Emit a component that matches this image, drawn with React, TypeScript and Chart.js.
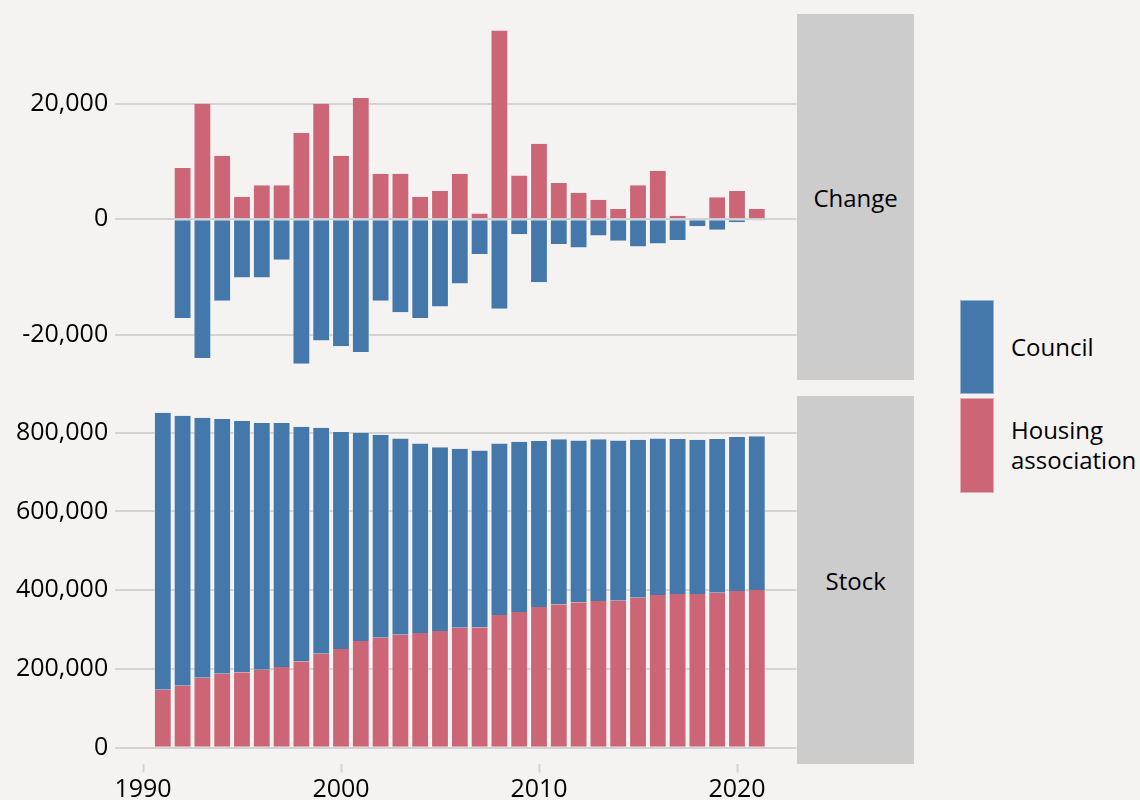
import React, { useEffect, useRef } from "react";
import { Chart, registerables } from "chart.js";

Chart.register(...registerables);

// ---------- data ----------
const stockYears = [1991, 1992, 1993, 1994, 1995, 1996, 1997, 1998, 1999, 2000, 2001, 2002, 2003, 2004, 2005, 2006, 2007, 2008, 2009, 2010, 2011, 2012, 2013, 2014, 2015, 2016, 2017, 2018, 2019, 2020, 2021];
const changeYears = [1992, 1993, 1994, 1995, 1996, 1997, 1998, 1999, 2000, 2001, 2002, 2003, 2004, 2005, 2006, 2007, 2008, 2009, 2010, 2011, 2012, 2013, 2014, 2015, 2016, 2017, 2018, 2019, 2020, 2021];

const councilChange = [-17100, -24000, -14100, -10100, -10100, -7000, -25000, -21000, -22000, -23000, -14100, -16100, -17100, -15100, -11100, -6000, -15500, -2600, -10900, -4300, -4900, -2800, -3700, -4700, -4200, -3600, -1200, -1800, -500, -200];
const haChange = [8900, 20000, 11000, 3900, 5900, 5900, 15000, 20000, 11000, 21000, 7900, 7900, 3900, 4900, 7900, 1000, 32700, 7600, 13100, 6300, 4600, 3400, 1800, 5900, 8400, 600, 200, 3800, 4900, 1800];

const haStock = [147300, 157500, 177800, 187900, 191300, 198100, 204900, 219300, 238700, 250600, 270900, 279400, 287000, 291200, 296300, 304800, 305600, 336900, 344600, 357200, 364000, 369100, 372500, 373300, 381000, 387700, 390300, 390300, 393700, 397900, 400400];
const councilStock = [703500, 685700, 660300, 646800, 638300, 626500, 619700, 595900, 574000, 551100, 529100, 514700, 498600, 481700, 466500, 454600, 449500, 436000, 432500, 421600, 419100, 411400, 410600, 407200, 401200, 397900, 393600, 391900, 390200, 391100, 390300];

const changeTicks = [-20000, 0, 20000];
const stockTicks = [0, 200000, 400000, 600000, 800000];
const yearTicks = [1990, 2000, 2010, 2020];

const seriesNames = ["Council", "Housing association"];
const panelNames = ["Change", "Stock"];

// ---------- style ----------
const BLUE = "#4477AA";
const RED = "#CC6677";
const BG = "#F5F3F1";
const GRID = "#D3D3D3";
const STRIP = "#CCCCCC";
const FONT = "'Open Sans', 'Noto Sans', sans-serif";

const fmt = (v: number) => Number(v).toLocaleString("en-US");

function barDataset(label: string, xs: number[], ys: number[], color: string) {
  return {
    label,
    data: xs.map((x, i) => ({ x, y: ys[i] })),
    backgroundColor: color,
    borderColor: "rgba(255,255,255,0.4)",
    borderWidth: { left: 1, right: 1, top: 0, bottom: 0 },
    borderSkipped: false,
    categoryPercentage: 1,
    barPercentage: 0.9,
  };
}

function yScale(min: number, max: number, ticks: number[]) {
  return {
    stacked: true,
    min,
    max,
    afterFit: (s: any) => {
      s.width = 123.2;
      s.paddingTop = 0;
      s.paddingBottom = 0;
    },
    afterBuildTicks: (s: any) => {
      s.ticks = ticks.map((v) => ({ value: v }));
    },
    grid: {
      color: GRID,
      lineWidth: 2,
      drawTicks: true,
      tickLength: 8,
      tickColor: GRID,
      tickWidth: 2,
    },
    border: { display: false },
    ticks: {
      padding: 7,
      color: "#000",
      font: { family: FONT, size: 25 },
      callback: (v: any) => fmt(v),
    },
  };
}

function xScale(show: boolean) {
  return {
    type: "linear",
    min: 1989,
    max: 2023,
    stacked: true,
    offset: false,
    display: show,
    afterBuildTicks: (s: any) => {
      s.ticks = yearTicks.map((v) => ({ value: v }));
    },
    afterFit: (s: any) => {
      s.height = show ? 35.6 : 0;
      s.paddingLeft = 0;
      s.paddingRight = 0;
    },
    grid: {
      offset: false,
      drawOnChartArea: false,
      drawTicks: true,
      tickLength: 8,
      tickColor: GRID,
      tickWidth: 2,
    },
    border: { display: false },
    ticks: {
      padding: 2,
      color: "#000",
      maxRotation: 0,
      autoSkip: false,
      font: { family: FONT, size: 25 },
      callback: (v: any) => String(v),
    },
  } as any;
}

function TopChart() {
  const ref = useRef<HTMLCanvasElement>(null);
  useEffect(() => {
    const chart = new Chart(ref.current!, {
      type: "bar",
      data: {
        datasets: [
          barDataset(seriesNames[1], changeYears, haChange, RED),
          barDataset(seriesNames[0], changeYears, councilChange, BLUE),
        ] as any,
      },
      options: {
        responsive: false,
        animation: false,
        layout: { padding: { top: 13.7, bottom: 9.6, left: 0, right: 0.6 } },
        plugins: { legend: { display: false }, tooltip: { enabled: false } },
        scales: {
          x: xScale(false),
          y: yScale(-27900, 35600, changeTicks) as any,
        },
      },
    });
    return () => chart.destroy();
  }, []);
  return (
    <canvas
      ref={ref}
      width={797}
      height={390}
      style={{ position: "absolute", left: 0, top: 0, width: 797, height: 390 }}
    />
  );
}

function BottomChart() {
  const ref = useRef<HTMLCanvasElement>(null);
  useEffect(() => {
    const chart = new Chart(ref.current!, {
      type: "bar",
      data: {
        datasets: [
          barDataset(seriesNames[1], stockYears, haStock, RED),
          barDataset(seriesNames[0], stockYears, councilStock, BLUE),
        ] as any,
      },
      options: {
        responsive: false,
        animation: false,
        layout: { padding: { top: 6.1, bottom: 0, left: 0, right: 0.6 } },
        plugins: { legend: { display: false }, tooltip: { enabled: false } },
        scales: {
          x: xScale(true),
          y: yScale(-42500, 893000, stockTicks) as any,
        },
      },
    });
    return () => chart.destroy();
  }, []);
  return (
    <canvas
      ref={ref}
      width={797}
      height={410}
      style={{ position: "absolute", left: 0, top: 390, width: 797, height: 410 }}
    />
  );
}

const textStyle: React.CSSProperties = {
  fontFamily: FONT,
  fontSize: 24,
  color: "#000",
};

export default function App() {
  return (
    <div
      style={{
        position: "fixed",
        left: 0,
        top: 0,
        width: 1140,
        height: 800,
        background: BG,
        overflow: "hidden",
      }}
    >
      <TopChart />
      <BottomChart />
      {/* facet strips */}
      <div
        style={{
          ...textStyle,
          position: "absolute",
          left: 797.3,
          top: 13.7,
          width: 116.7,
          height: 366.7,
          background: STRIP,
          display: "flex",
          alignItems: "center",
          justifyContent: "center",
        }}
      >
        {panelNames[0]}
      </div>
      <div
        style={{
          ...textStyle,
          position: "absolute",
          left: 797.3,
          top: 396.1,
          width: 116.7,
          height: 368.3,
          background: STRIP,
          display: "flex",
          alignItems: "center",
          justifyContent: "center",
        }}
      >
        {panelNames[1]}
      </div>
      {/* legend */}
      <div
        style={{
          position: "absolute",
          left: 959.5,
          top: 299.5,
          width: 34,
          height: 94.5,
          background: BLUE,
          boxSizing: "border-box",
          border: "1px solid rgba(255,255,255,0.45)",
        }}
      />
      <div
        style={{
          position: "absolute",
          left: 959.5,
          top: 397.5,
          width: 34,
          height: 95,
          background: RED,
          boxSizing: "border-box",
          border: "1px solid rgba(255,255,255,0.45)",
        }}
      />
      <div
        style={{
          ...textStyle,
          position: "absolute",
          left: 1011,
          top: 299.5,
          height: 94.5,
          display: "flex",
          alignItems: "center",
          lineHeight: "30px",
        }}
      >
        {seriesNames[0]}
      </div>
      <div
        style={{
          ...textStyle,
          position: "absolute",
          left: 1011,
          top: 397.5,
          height: 95,
          width: 129,
          display: "flex",
          alignItems: "center",
          lineHeight: "30px",
          whiteSpace: "nowrap",
        }}
      >
        <div>
          Housing
          <br />
          association
        </div>
      </div>
    </div>
  );
}
